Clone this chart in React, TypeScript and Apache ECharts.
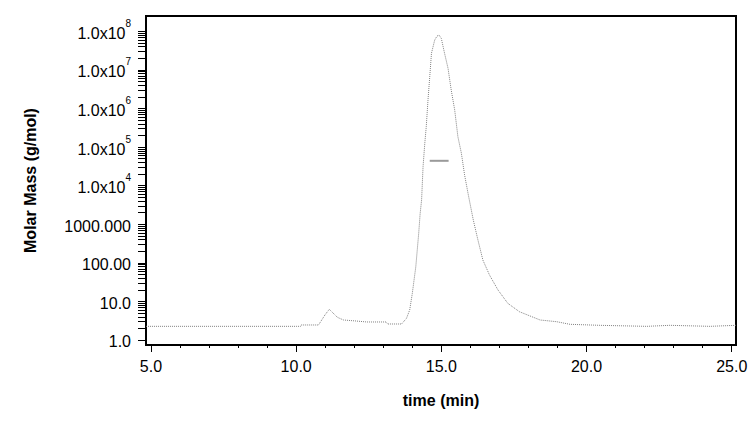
import { useEffect, useRef } from 'react';
import * as echarts from 'echarts';

// retention time (min) and molar mass (g/mol)
const times = [
  4.83, 6, 7, 8, 9, 10, 10.15, 10.17, 10.77, 10.88, 10.99, 11.14, 11.26, 11.42, 11.63, 12.08,
  12.43, 13.1, 13.15, 13.63, 13.8, 13.91, 14.0, 14.06, 14.12, 14.17, 14.22, 14.27, 14.32, 14.37,
  14.43, 14.48, 14.54, 14.6, 14.66, 14.77, 14.85, 14.92, 15.0, 15.11, 15.23, 15.34, 15.46, 15.57,
  15.69, 15.8, 15.93, 16.1, 16.26, 16.43, 16.66, 16.95, 17.29, 17.69, 18.4, 18.97, 19.43, 20.46,
  22.07, 22.87, 24.25, 25.14,
];
const masses = [
  2.26, 2.26, 2.26, 2.26, 2.26, 2.26, 2.26, 2.45, 2.45, 3.3, 4.44, 6.24, 5.1, 3.87, 3.3, 3.1,
  2.93, 2.93, 2.6, 2.6, 3.65, 6.0, 16.2, 35.8, 79, 215, 580, 1900, 4250, 3.1e4,
  1.25e5, 3.36e5, 1.65e6, 6.6e6, 2.7e7, 5.9e7, 7.5e7, 8.0e7, 6.5e7, 2.7e7, 1.1e7, 3.0e6, 9.1e5, 1.85e5,
  6.9e4, 1.9e4, 5700, 1290, 390, 118, 48, 19.8, 8.9, 5.4, 3.3, 2.98, 2.55, 2.4,
  2.26, 2.4, 2.26, 2.4,
];
// average molar mass marker
const mwTimes = [14.6, 15.25];
const mwMass = 44000;

const xMajorTicks = [5, 10, 15, 20, 25];
const yDecades = [0, 1, 2, 3, 4, 5, 6, 7, 8];
const yMantissas = [1, 2, 3, 4, 5, 6, 7, 8, 9];
const yPlainLabels = ['1.0', '10.0', '100.00', '1000.000'];

const FONT = '"Liberation Sans", Arial, sans-serif';

export default function App() {
  const chartRef = useRef<HTMLDivElement>(null);

  useEffect(() => {
    if (!chartRef.current) return;
    const chart = echarts.init(chartRef.current, undefined, { renderer: 'svg' });

    const yTicks = yDecades.flatMap((d) =>
      d === 8 ? [10 ** d] : yMantissas.map((m) => m * 10 ** d)
    );
    const yLabels = yDecades.map((d) => 10 ** d);

    chart.setOption({
      animation: false,
      backgroundColor: '#fff',
      grid: {
        left: 146,
        right: 20,
        top: 16,
        bottom: 77,
        show: true,
        borderColor: '#000',
        borderWidth: 2,
      },
      xAxis: {
        type: 'value',
        min: 4.828,
        max: 25.148,
        splitNumber: 4,
        name: 'time (min)',
        nameLocation: 'middle',
        nameGap: 47,
        nameTextStyle: { fontFamily: FONT, fontSize: 16, fontWeight: 'bold', color: '#000' },
        axisLine: { show: true, onZero: false, lineStyle: { color: '#000', width: 2 } },
        axisTick: {
          show: true,
          length: 7,
          customValues: xMajorTicks,
          lineStyle: { color: '#000', width: 1 },
        },
        minorTick: { show: true, splitNumber: 5, length: 3, lineStyle: { color: '#000', width: 1 } },
        axisLabel: {
          customValues: xMajorTicks,
          margin: 13,
          fontFamily: FONT,
          fontSize: 16,
          color: '#000',
          formatter: (v: number) => v.toFixed(1),
        },
        splitLine: { show: false },
        minorSplitLine: { show: false },
      },
      yAxis: {
        type: 'log',
        logBase: 10,
        min: 0.742,
        max: 2.49e8,
        splitNumber: 8,
        name: 'Molar Mass (g/mol)',
        nameLocation: 'middle',
        nameGap: 108,
        nameTextStyle: { fontFamily: FONT, fontSize: 16, fontWeight: 'bold', color: '#000' },
        axisLine: { show: true, lineStyle: { color: '#000', width: 2 } },
        axisTick: {
          show: true,
          length: 8,
          customValues: yTicks,
          lineStyle: { color: '#000', width: 1 },
        },
        axisLabel: {
          customValues: yLabels,
          margin: 15,
          padding: [4, 0, 0, 0],
          fontFamily: FONT,
          fontSize: 16,
          color: '#000',
          formatter: (v: number) => {
            const e = Math.round(Math.log10(v));
            if (e < yPlainLabels.length) return yPlainLabels[e];
            return `{b|1.0x10}{s|${e}}`;
          },
          rich: {
            b: { fontFamily: FONT, fontSize: 16, color: '#000' },
            s: { fontFamily: FONT, fontSize: 10, color: '#000', padding: [0, 0, 20, 0] },
          },
        },
        splitLine: { show: false },
      },
      series: [
        {
          type: 'line',
          data: times.map((t, i) => [t, masses[i]]),
          symbol: 'none',
          silent: true,
          lineStyle: { color: '#808080', width: 1, type: 'dotted' },
        },
        {
          type: 'line',
          data: mwTimes.map((t) => [t, mwMass]),
          symbol: 'none',
          silent: true,
          lineStyle: { color: '#9a9a9a', width: 2 },
        },
      ],
    });

    return () => {
      chart.dispose();
    };
  }, []);

  return (
    <div
      ref={chartRef}
      style={{ position: 'absolute', left: 0, top: 0, width: 756, height: 422, background: '#fff' }}
    ></div>
  );
}
